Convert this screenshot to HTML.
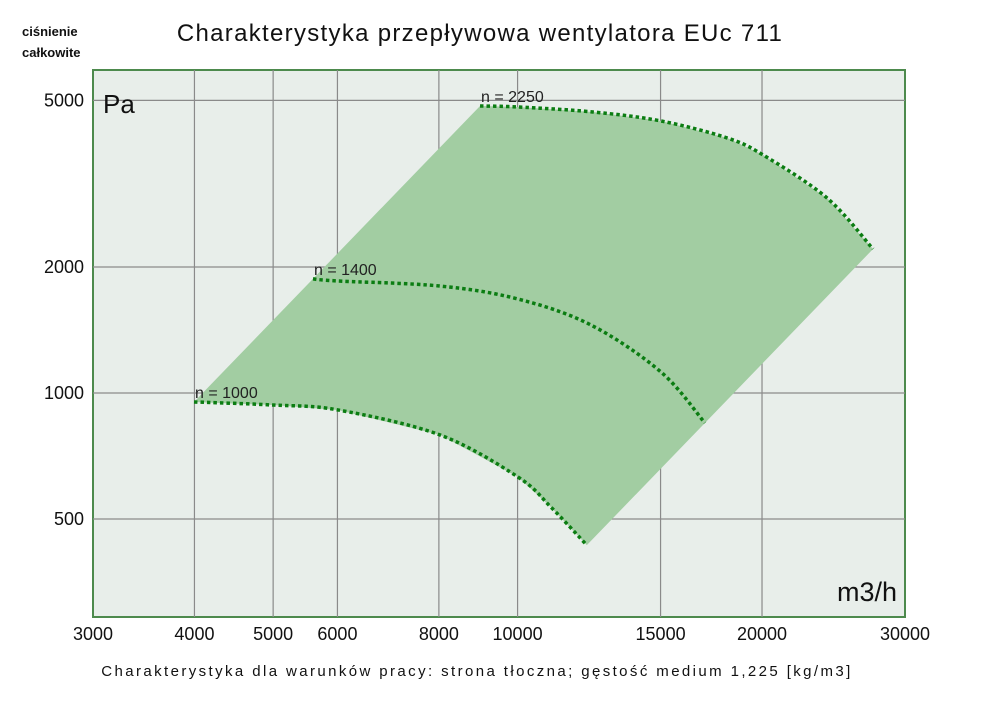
<!DOCTYPE html>
<html><head><meta charset="utf-8"><style>
body{margin:0;background:#fff;width:1000px;height:706px;overflow:hidden;font-family:"Liberation Sans",sans-serif}
</style></head><body>
<svg id="chart" width="1000" height="706" xmlns="http://www.w3.org/2000/svg" font-family="Liberation Sans, DejaVu Sans, sans-serif">
<text x="22" y="36" font-size="13" font-weight="bold" fill="#111">ciśnienie</text>
<text x="22" y="57" font-size="13" font-weight="bold" fill="#111">całkowite</text>
<text x="480" y="41" font-size="24" text-anchor="middle" fill="#111" letter-spacing="1.3">Charakterystyka przepływowa wentylatora EUc 711</text>
<rect x="93" y="70" width="812" height="547" fill="#e8eeea" stroke="#4d8a4d" stroke-width="2"/>
<g id="grid"></g>
<g id="marks"></g>
<text x="103" y="113" font-size="26" fill="#111">Pa</text>
<text x="897" y="601" font-size="27" text-anchor="end" fill="#111">m3/h</text>
<g id="ticks"></g>
<text x="477" y="676" font-size="15" text-anchor="middle" fill="#111" letter-spacing="2.4">Charakterystyka dla warunków pracy: strona tłoczna; gęstość medium 1,225 [kg/m3]</text>
</svg>
<script>
const xTicks=[3000,4000,5000,6000,8000,10000,15000,20000,30000];
const yTicks=[500,1000,2000,5000];
const n1000Flow=[3995,4998,6008,8025,10010,10990,12170];
const n1000Press=[952,936,911,794,630,534,433];
const n1400Flow=[5598,5998,8025,10010,12310,15020,17010];
const n1400Press=[1873,1852,1801,1677,1454,1122,848];
const n2250Flow=[8990,10010,12380,15020,18110,20060,24050,27400];
const n2250Press=[4849,4823,4692,4465,4068,3704,2923,2208];
const seriesNames=["n = 1000","n = 1400","n = 2250"];

const NS="http://www.w3.org/2000/svg";
const X=v=>93+812*(Math.log10(v)-Math.log10(3000));
const Y=v=>393-418.6*(Math.log10(v)-3);
function mk(tag,attrs,parent){const e=document.createElementNS(NS,tag);for(const k in attrs)e.setAttribute(k,attrs[k]);parent.appendChild(e);return e;}
const grid=document.getElementById('grid'),marks=document.getElementById('marks'),ticks=document.getElementById('ticks');
xTicks.forEach(t=>{
  if(t>3000&&t<30000){const l=mk('line',{x1:X(t),x2:X(t),y1:70,y2:617,stroke:'#8a8a8a','stroke-width':1.2},grid);
  
  }
  const tx=mk('text',{x:X(t),y:640,'font-size':18,'text-anchor':'middle',fill:'#111'},ticks);
  tx.textContent=t;
  
  
});
yTicks.forEach(t=>{
  const l=mk('line',{x1:93,x2:905,y1:Y(t),y2:Y(t),stroke:'#8a8a8a','stroke-width':1.2},grid);
  
  
  const tx=mk('text',{x:84,y:Y(t)+6,'font-size':18,'text-anchor':'end',fill:'#111'},ticks);
  tx.textContent=t;
  
  
});
const pts=[];
n2250Flow.forEach((f,i)=>pts.push(X(f)+','+Y(n2250Press[i])));
pts.push(X(n1000Flow[n1000Flow.length-1])+','+Y(n1000Press[n1000Press.length-1]));
for(let i=n1000Flow.length-1;i>=0;i--)pts.push(X(n1000Flow[i])+','+Y(n1000Press[i]));
const poly=mk('polygon',{points:pts.join(' '),fill:'#a2cda2'},marks);


[[n1000Flow,n1000Press],[n1400Flow,n1400Press],[n2250Flow,n2250Press]].forEach((s,k)=>{
  const p=s[0].map((f,i)=>[X(f),Y(s[1][i])]);
  let d='M'+p[0][0]+','+p[0][1];
  for(let i=0;i<p.length-1;i++){
    const p0=p[Math.max(0,i-1)],p1=p[i],p2=p[i+1],p3=p[Math.min(p.length-1,i+2)];
    d+=' C'+(p1[0]+(p2[0]-p0[0])/6)+','+(p1[1]+(p2[1]-p0[1])/6)+' '+(p2[0]-(p3[0]-p1[0])/6)+','+(p2[1]-(p3[1]-p1[1])/6)+' '+p2[0]+','+p2[1];
  }
  const path=mk('path',{d:d,fill:'none',stroke:'#0b7d12','stroke-width':3.5,'stroke-dasharray':'3.5 3'},marks);
  
  
  const lab=mk('text',{x:p[0][0]+1,y:p[0][1]-4,'font-size':16,fill:'#222'},marks);
  lab.textContent=seriesNames[k];
  
  
});
</script>
</body></html>
